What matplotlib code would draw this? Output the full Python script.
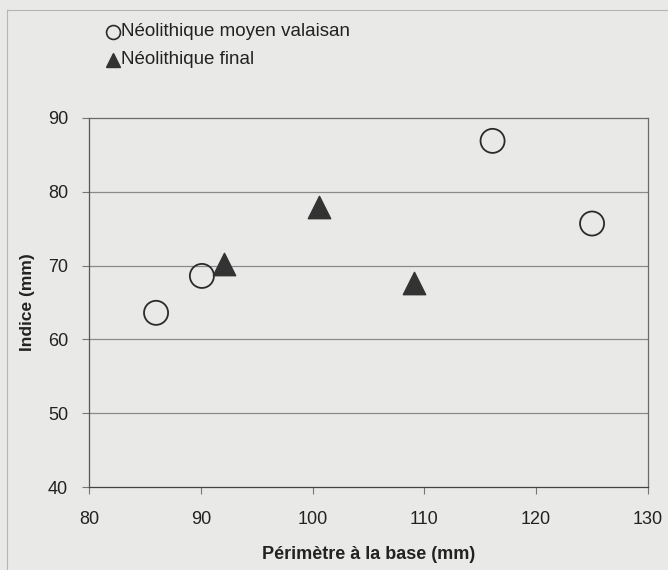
import matplotlib
matplotlib.use('Agg')
import matplotlib.pyplot as plt
from matplotlib.lines import Line2D

plt.rcParams['font.family'] = ['Liberation Sans', 'DejaVu Sans']

# Néolithique moyen valaisan (cercles)
nmv_x = [86.0, 90.1, 116.1, 125.0]
nmv_y = [63.6, 68.6, 86.9, 75.7]
# Néolithique final (triangles)
nf_x = [92.1, 100.6, 109.1]
nf_y = [70.2, 77.9, 67.6]

xticks = [80, 90, 100, 110, 120, 130]
yticks = [40, 50, 60, 70, 80, 90]

bg = '#e9eae8'
ink = '#2b2b2b'

fig = plt.figure(figsize=(6.68, 5.7), dpi=100, facecolor=bg)
ax = fig.add_axes([0.1332, 0.1456, 0.8368, 0.6474], facecolor=bg)

for y in yticks[1:-1]:
    ax.axhline(y, color='#8a8a8a', lw=0.9, zorder=1)

ax.scatter(nmv_x, nmv_y, s=300, marker='o', facecolors='none',
           edgecolors=ink, linewidths=1.3, zorder=3)
ax.scatter(nf_x, nf_y, s=260, marker='^', color='#333333', zorder=3)

ax.set_xlim(80, 130)
ax.set_ylim(40, 90)
ax.set_xticks(xticks)
ax.set_yticks(yticks)
ax.tick_params(direction='out', length=5, width=0.8, colors='#777777',
               labelcolor='#222222', labelsize=13)
ax.tick_params(axis='x', pad=12)
ax.tick_params(axis='y', pad=10)
for s in ax.spines.values():
    s.set_color('#6a6a6a')
    s.set_linewidth(0.9)
ax.spines['bottom'].set_color('#444444')
ax.spines['left'].set_color('#555555')

ax.set_xlabel('Périmètre à la base (mm)', fontsize=13, fontweight='bold',
              color='#222222', labelpad=13)
ax.set_ylabel('Indice (mm)', fontsize=12.5, fontweight='bold',
              color='#222222', labelpad=9)

# legende au-dessus du graphique
fig.add_artist(Line2D([113/668], [1 - 32/570], marker='o', markersize=10,
                      markerfacecolor='none', markeredgecolor=ink,
                      markeredgewidth=1.2, transform=fig.transFigure))
fig.text(121/668, 1 - 32/570, 'Néolithique moyen valaisan', fontsize=13.5,
         va='center', color='#222222')
fig.add_artist(Line2D([113/668], [1 - 60/570], marker='^', markersize=10,
                      color='#333333', lw=0, transform=fig.transFigure))
fig.text(121/668, 1 - 60/570, 'Néolithique final', fontsize=13.5,
         va='center', color='#222222')

# cadre de la page
fig.add_artist(Line2D([7/668, 7/668], [0, 1 - 10/570], color='#b5b5b5',
                      lw=0.8, transform=fig.transFigure))
fig.add_artist(Line2D([7/668, 1], [1 - 10/570, 1 - 10/570], color='#b5b5b5',
                      lw=0.8, transform=fig.transFigure))

fig.savefig('out.png', dpi=100, facecolor=bg)
